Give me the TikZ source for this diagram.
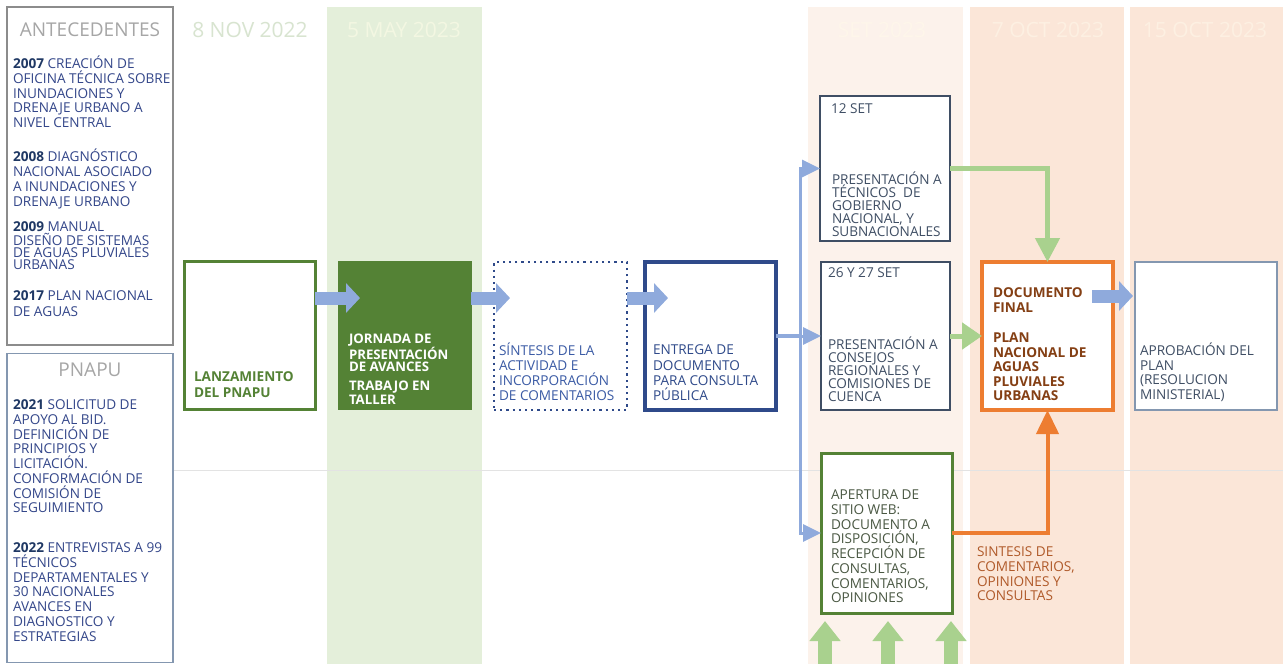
\documentclass[tikz,border=0pt]{standalone}
\usepackage{fontspec}
\setmainfont{Open Sans}
\usetikzlibrary{arrows.meta,calc}

\definecolor{yearnavy}{HTML}{1F3864}
\definecolor{bodyblue}{HTML}{34478A}
\definecolor{hdrgray}{HTML}{A6A6A6}
\definecolor{dkgreen}{HTML}{548235}
\definecolor{ltgreen}{HTML}{A9D18E}
\definecolor{arrowblue}{HTML}{8FAADC}
\definecolor{docblue}{HTML}{2F4A8A}
\definecolor{sintblue}{HTML}{3B5BA5}
\definecolor{slate}{HTML}{3F4E64}
\definecolor{framegray}{HTML}{8C8C8C}
\definecolor{frameblue}{HTML}{8497B0}
\definecolor{orng}{HTML}{ED7D31}
\definecolor{finalbrown}{HTML}{843F14}
\definecolor{synthbrown}{HTML}{B05A2A}
\definecolor{webgray}{HTML}{4A5843}
\definecolor{maygreen}{HTML}{E4EFDA}
\definecolor{setbg}{HTML}{FCF2EB}
\definecolor{octbg}{HTML}{FBE6D8}
\definecolor{novtxt}{HTML}{D8E4D0}
\definecolor{maytxt}{HTML}{F3F7E2}
\definecolor{settxt}{HTML}{FEF6EA}
\definecolor{octtxt}{HTML}{FDF0E2}

\newcommand\capline{\rule{0pt}{13pt}}

\begin{document}
\begin{tikzpicture}[x=1pt,y=-1pt,
  stagebox/.style={draw, fill=white, inner sep=0pt, outer sep=0pt},
  txt/.style={inner sep=0pt, outer sep=0pt, anchor=north west, align=left,
              font=\fontsize{13.6}{#1}\selectfont},
  txt/.default=14.7,
  header/.style={inner sep=0pt, anchor=center, font=\fontsize{19}{22}\selectfont},
  dateheader/.style={inner sep=0pt, anchor=center, font=\fontsize{21}{23}\selectfont},
  fatblue/.style={draw=arrowblue, line width=13pt, -{Triangle[length=14pt,width=29pt]}},
  thinblue/.style={draw=arrowblue, line width=3pt, -{Triangle[length=18pt,width=17pt]}},
  greenline/.style={draw=ltgreen, line width=4.5pt, -{Triangle[length=24pt,width=24pt]}},
  greenfat/.style={draw=ltgreen, line width=5pt, -{Triangle[length=20pt,width=26pt]}},
  greenup/.style={draw=ltgreen, line width=14pt, -{Triangle[length=20pt,width=30pt]}},
  orangeline/.style={draw=orng, line width=4pt, -{Triangle[length=24pt,width=22pt]}}]

\useasboundingbox (0,0) rectangle (1283,664);
\fill[white] (0,0) rectangle (1283,664);

% date columns
\fill[maygreen] (327,7) rectangle (482,664);
\fill[setbg] (808,7) rectangle (963,664);
\fill[octbg] (970,7) rectangle (1124,664);
\fill[octbg] (1130,7) rectangle (1283,664);
\draw[black!11, line width=0.8pt] (173,470) -- (1283,470);

\node[dateheader, text=novtxt] (hnov) at (250,30) {8 NOV 2022};
\node[dateheader, text=maytxt] (hmay) at (404,30) {5 MAY 2023};
\node[dateheader, text=settxt] (hset) at (882,30) {SET 2023};
\node[dateheader, text=octtxt] (hoct7) at (1048,30) {7 OCT 2023};
\node[dateheader, text=octtxt] (hoct15) at (1205,30) {15 OCT 2023};

% background panels
\node[stagebox, draw=framegray, line width=1.5pt, minimum width=166pt, minimum height=338pt] (ante) at (90,176) {};
\node[stagebox, draw=frameblue, line width=1.5pt, minimum width=166pt, minimum height=309pt] (pnapu) at (90,508) {};
\node[header, text=hdrgray] (hante) at (90,30) {ANTECEDENTES};
\node[header, text=hdrgray] (hpnapu) at (90,370) {PNAPU};

\node[txt, text=bodyblue] (a2007) at (13,55.8) {\capline\textcolor{yearnavy}{\textbf{2007}} CREACIÓN DE\\OFICINA TÉCNICA SOBRE\\INUNDACIONES Y\\DRENAJE URBANO A\\NIVEL CENTRAL};
\node[txt=15, text=bodyblue] (a2008) at (13,148.8) {\capline\textcolor{yearnavy}{\textbf{2008}} DIAGNÓSTICO\\NACIONAL ASOCIADO\\A INUNDACIONES Y\\DRENAJE URBANO};
\node[txt=12, text=bodyblue] (a2009) at (13,218.8) {\capline\textcolor{yearnavy}{\textbf{2009}} MANUAL\\DISEÑO DE SISTEMAS\\DE AGUAS PLUVIALES\\URBANAS};
\node[txt=16, text=bodyblue] (a2017) at (13,287.8) {\capline\textcolor{yearnavy}{\textbf{2017}} PLAN NACIONAL\\DE AGUAS};

\node[txt, text=bodyblue] (p2021) at (13,396.8) {\capline\textcolor{yearnavy}{\textbf{2021}} SOLICITUD DE\\APOYO AL BID.\\DEFINICIÓN DE\\PRINCIPIOS Y\\LICITACIÓN.\\CONFORMACIÓN DE\\COMISIÓN DE\\SEGUIMIENTO};
\node[txt, text=bodyblue] (p2022) at (13,539.8) {\capline\textcolor{yearnavy}{\textbf{2022}} ENTREVISTAS A 99\\TÉCNICOS\\DEPARTAMENTALES Y\\30 NACIONALES\\AVANCES EN\\DIAGNOSTICO Y\\ESTRATEGIAS};

% process stages
\node[stagebox, draw=dkgreen, line width=3pt, minimum width=131pt, minimum height=148pt] (lanz) at (249.5,335) {};
\node[stagebox, draw=dkgreen, fill=dkgreen, line width=1pt, minimum width=133pt, minimum height=148pt] (jorn) at (404.5,335) {};
\node[stagebox, draw=docblue, line width=2.2pt, dash pattern=on 2.2pt off 4pt, minimum width=133pt, minimum height=148pt] (sint) at (560.5,336) {};
\node[stagebox, draw=docblue, line width=3.5pt, minimum width=131pt, minimum height=148pt] (entr) at (710.5,336) {};
\node[stagebox, draw=slate, line width=1.4pt, minimum width=130pt, minimum height=145pt] (set12) at (885,168.5) {};
\node[stagebox, draw=slate, line width=1.4pt, minimum width=129pt, minimum height=148pt] (set26) at (885.5,336) {};
\node[stagebox, draw=dkgreen, line width=3pt, minimum width=131pt, minimum height=160pt] (apert) at (886.5,533) {};
\node[stagebox, draw=orng, line width=4pt, minimum width=131pt, minimum height=148pt] (docf) at (1047.5,336) {};
\node[stagebox, draw=frameblue, line width=1.2pt, minimum width=142pt, minimum height=148pt] (aprob) at (1206,336) {};

\node[txt, text=dkgreen, font=\fontsize{13.6}{16}\selectfont\bfseries] (tlanz) at (194,368.8) {\capline LANZAMIENTO\\DEL PNAPU};
\node[txt, text=white, font=\fontsize{13.2}{11.8}\selectfont\bfseries] (tjorn1) at (349,330.8) {\capline JORNADA DE\\PRESENTACIÓN\\DE AVANCES};
\node[txt, text=white, font=\fontsize{13.2}{12}\selectfont\bfseries] (tjorn2) at (349,377.8) {\capline TRABAJO EN\\TALLER};
\node[txt=14.8, text=sintblue] (tsint) at (499,342.8) {\capline SÍNTESIS DE LA\\ACTIVIDAD E\\INCORPORACIÓN\\DE COMENTARIOS};
\node[txt=15.3, text=docblue] (tentr) at (653,341.8) {\capline ENTREGA DE\\DOCUMENTO\\PARA CONSULTA\\PÚBLICA};
\node[txt, text=slate] (dset12) at (831,100.8) {\capline 12 SET};
\node[txt=13, text=slate] (tset12) at (832,171.8) {\capline PRESENTACIÓN A\\TÉCNICOS\ \ DE\\GOBIERNO\\NACIONAL, Y\\SUBNACIONALES};
\node[txt, text=slate] (dset26) at (828,264.8) {\capline 26 Y 27 SET};
\node[txt=13, text=slate] (tset26) at (828,336.8) {\capline PRESENTACIÓN A\\CONSEJOS\\REGIONALES Y\\COMISIONES DE\\CUENCA};
\node[txt=14.7, text=webgray] (tapert) at (831,486.8) {\capline APERTURA DE\\SITIO WEB:\\DOCUMENTO A\\DISPOSICIÓN,\\RECEPCIÓN DE\\CONSULTAS,\\COMENTARIOS,\\OPINIONES};
\node[txt, text=finalbrown, font=\fontsize{13.6}{15}\selectfont\bfseries] (tdocf1) at (993,284.8) {\capline DOCUMENTO\\FINAL};
\node[txt, text=finalbrown, font=\fontsize{13.6}{14.5}\selectfont\bfseries] (tdocf2) at (993,329.8) {\capline PLAN\\NACIONAL DE\\AGUAS\\PLUVIALES\\URBANAS};
\node[txt=14.5, text=slate] (taprob) at (1140,342.8) {\capline APROBACIÓN DEL\\PLAN\\(RESOLUCION\\MINISTERIAL)};
\node[txt=14.7, text=synthbrown] (tsynth) at (977,543.8) {\capline SINTESIS DE\\COMENTARIOS,\\OPINIONES Y\\CONSULTAS};

% connectors
\draw[fatblue] ($(lanz.east)+(0,-37)$) -- ($(jorn.west)+(22,-37)$);
\draw[fatblue] ($(jorn.east)+(0,-37)$) -- ($(sint.west)+(16,-38)$);
\draw[fatblue] ($(sint.east)+(0,-38)$) -- ($(entr.west)+(23,-38)$);
\draw[fatblue] ($(docf.east)+(-21,-40)$) -- ($(aprob.west)+(-2,-40)$);

\coordinate (hub) at ($(entr.east)+(24,0)$);
\draw[draw=arrowblue, line width=4.5pt] (entr.east) -- (hub);
\draw[thinblue] (hub) -- (set26.west);
\draw[thinblue] (hub) |- (set12.west);
\draw[thinblue] (hub) |- (apert.west);

\draw[greenline] (set12.east) -| (docf.north);
\draw[greenfat] (set26.east) -- (docf.west);
\draw[orangeline] (apert.east) -| (docf.south);

\coordinate (in1) at (825,664);
\coordinate (in2) at (888,664);
\coordinate (in3) at (951,664);
\draw[greenup] (in1) -- ($(in1)+(0,-43)$);
\draw[greenup] (in2) -- ($(in2)+(0,-43)$);
\draw[greenup] (in3) -- ($(in3)+(0,-43)$);

\end{tikzpicture}
\end{document}
